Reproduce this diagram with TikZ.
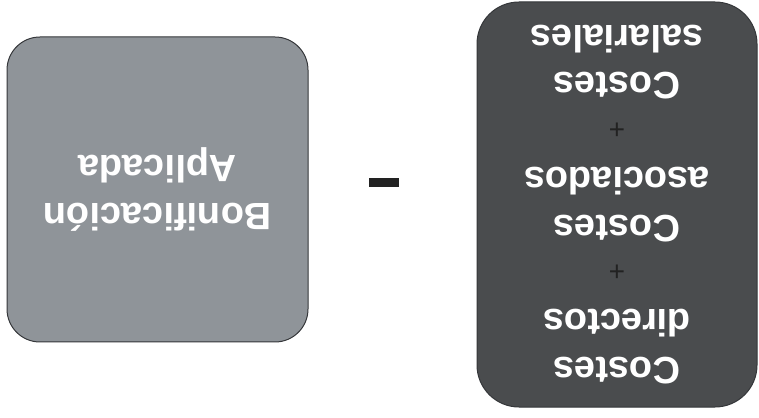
\documentclass[tikz,border=0pt]{standalone}
\usepackage{fontspec}
\setmainfont{Liberation Sans}
\usetikzlibrary{positioning}
\definecolor{boxlight}{HTML}{8F9499}
\definecolor{boxdark}{HTML}{4A4C4E}
\definecolor{boxline}{HTML}{35373A}
\definecolor{signcol}{HTML}{222222}
\newcommand{\sumsign}{{\color{signcol}\mdseries\fontsize{28}{47.4}\selectfont +}}
\tikzset{
  costbox/.style={draw=boxline,line width=1pt,text=white,align=center,rotate=180,
    inner sep=0pt,font=\bfseries\fontsize{38}{47.4}\selectfont},
}

\begin{document}
\begin{tikzpicture}[x=1pt,y=1pt]
      \useasboundingbox (0,0) rectangle (759,417);
      \node[costbox, fill=boxlight, rounded corners=33pt,
        minimum width=301pt, minimum height=305pt] (bonif) at (157.5,227.5)
        {Bonificación\\Aplicada};
      \node[costbox, fill=boxdark, rounded corners=42pt,
        minimum width=280pt, minimum height=405pt] (costes) at (617,212.5)
        {Costes\\directos\\\sumsign\\Costes\\asociados\\\sumsign\\Costes\\salariales};
      \node[fill=signcol, minimum width=30pt, minimum height=9pt, inner sep=0pt]
        (menos) at (384,234.5) {};
\end{tikzpicture}
\end{document}
